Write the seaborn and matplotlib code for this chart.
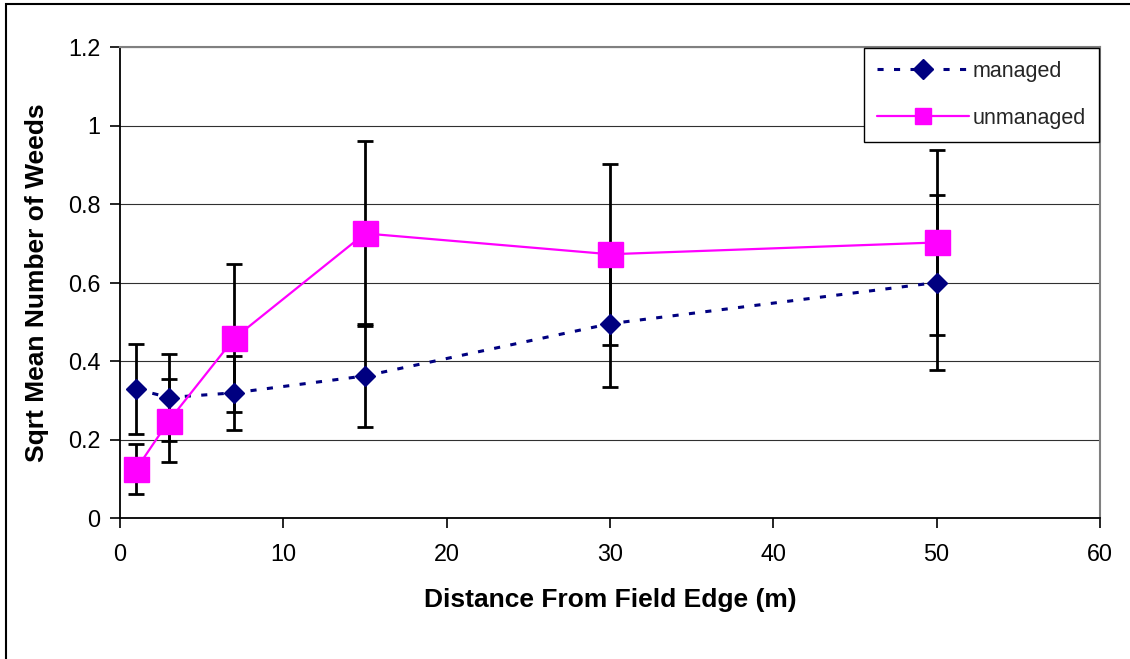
import matplotlib
matplotlib.use("Agg")
import matplotlib.pyplot as plt
from matplotlib.lines import Line2D
from matplotlib.patches import Rectangle
import seaborn as sns
import pandas as pd

# ---- data ----
distance = [1, 3, 7, 15, 30, 50]
managed = [0.328, 0.307, 0.319, 0.362, 0.495, 0.600]
managed_err = [0.115, 0.110, 0.095, 0.131, 0.161, 0.224]
unmanaged = [0.125, 0.248, 0.458, 0.725, 0.672, 0.702]
unmanaged_err = [0.064, 0.106, 0.188, 0.236, 0.230, 0.236]
series_names = ["managed", "unmanaged"]
x_ticks = [0, 10, 20, 30, 40, 50, 60]
y_ticks = [0, 0.2, 0.4, 0.6, 0.8, 1.0, 1.2]
y_tick_labels = ["0", "0.2", "0.4", "0.6", "0.8", "1", "1.2"]
x_label = "Distance From Field Edge (m)"
y_label = "Sqrt Mean Number of Weeds"

df_m = pd.DataFrame({"distance": distance, "value": managed, "err": managed_err})
df_u = pd.DataFrame({"distance": distance, "value": unmanaged, "err": unmanaged_err})

sns.set_style("white")
plt.rcParams["font.family"] = ["Liberation Sans", "DejaVu Sans"]

NAVY = "#000080"
MAGENTA = "#FF00FF"
DASH = (0, (2.0, 3.4))

fig = plt.figure(figsize=(11.3, 6.59), dpi=100)
ax = fig.add_axes([120 / 1130, 1 - 518 / 659, 980 / 1130, 471 / 659])

# error bars (behind markers)
ax.errorbar(df_m["distance"], df_m["value"], yerr=df_m["err"], fmt="none",
            ecolor="black", elinewidth=2.0, capsize=5.8, capthick=2.0, zorder=2)
ax.errorbar(df_u["distance"], df_u["value"], yerr=df_u["err"], fmt="none",
            ecolor="black", elinewidth=2.0, capsize=5.8, capthick=2.0, zorder=2)

# lines
sns.lineplot(data=df_m, x="distance", y="value", ax=ax, color=NAVY,
             linewidth=2.2, dashes=False, marker="D", markersize=10.5,
             markeredgecolor=NAVY, markerfacecolor=NAVY, markeredgewidth=1,
             legend=False, zorder=3)
sns.lineplot(data=df_u, x="distance", y="value", ax=ax, color=MAGENTA,
             linewidth=1.6, marker="s", markersize=18,
             markeredgecolor=MAGENTA, markerfacecolor=MAGENTA, markeredgewidth=1,
             legend=False, zorder=4)
for ln in ax.get_lines():
    if ln.get_color() == NAVY:
        ln.set_linestyle(DASH)

ax.set_xlim(0, 60)
ax.set_ylim(0, 1.2)
ax.set_xticks(x_ticks)
ax.set_xticklabels([str(t) for t in x_ticks])
ax.set_yticks(y_ticks)
ax.set_yticklabels(y_tick_labels)
ax.tick_params(axis="both", direction="out", length=7, width=1.2, color="black",
               labelsize=16.8, labelcolor="black")
ax.tick_params(axis="x", pad=11, bottom=True)
ax.tick_params(axis="y", pad=7, left=True)

ax.yaxis.grid(True, color="#303030", linewidth=0.8)
ax.xaxis.grid(False)
ax.set_axisbelow(True)

for side in ["left", "bottom"]:
    ax.spines[side].set_color("black")
    ax.spines[side].set_linewidth(1.3)
for side in ["top", "right"]:
    ax.spines[side].set_color("#808080")
    ax.spines[side].set_linewidth(1.5)
    ax.spines[side].set_visible(True)

ax.set_xlabel(x_label, fontsize=19, fontweight="bold", color="black")
ax.set_ylabel(y_label, fontsize=19, fontweight="bold", color="black")
ax.xaxis.set_label_coords(0.5, -0.148)
ax.yaxis.set_label_coords(-0.072, 0.5)

handles = [
    Line2D([], [], color=NAVY, linewidth=2.2, linestyle=DASH,
           marker="D", markersize=10.5, markerfacecolor=NAVY, markeredgecolor=NAVY),
    Line2D([], [], color=MAGENTA, linewidth=1.6, marker="s", markersize=11,
           markerfacecolor=MAGENTA, markeredgecolor=MAGENTA),
]
leg = ax.legend(handles, series_names, loc="upper right",
                bbox_to_anchor=(0.9985, 0.998), fontsize=15.5, frameon=True,
                fancybox=False, shadow=False, handlelength=4.3,
                handletextpad=0.15, labelspacing=1.2, borderpad=0.6,
                borderaxespad=0.0)
leg.get_frame().set_edgecolor("black")
leg.get_frame().set_linewidth(1.0)
leg.get_frame().set_facecolor("white")
leg.get_frame().set_alpha(1)
leg.set_zorder(10)

# outer chart border
fig.patches.append(Rectangle((6 / 1130, -0.05), 1.2, (659 - 4) / 659 + 0.05,
                             transform=fig.transFigure, fill=False,
                             edgecolor="black", linewidth=1.5, zorder=0))

fig.savefig("out.png", dpi=100)
